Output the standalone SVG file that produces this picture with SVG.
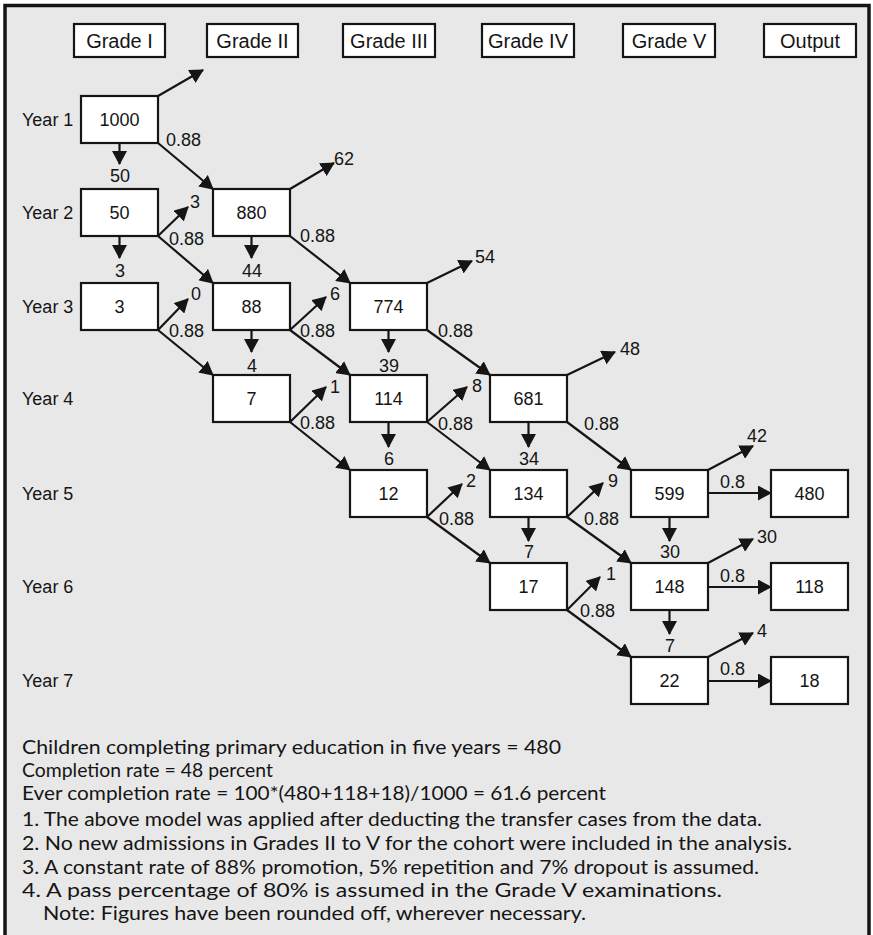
<svg xmlns="http://www.w3.org/2000/svg" width="873" height="935" viewBox="0 0 873 935">
<style>
.frame{fill:#e8e8e8;stroke:#151515;stroke-width:3.5}
.box{fill:#fff;stroke:#151515;stroke-width:2.2}
.t{font-family:"Liberation Sans",Arial,sans-serif;font-size:18px;fill:#151515}
.h{font-size:20px;text-anchor:middle}
.m{text-anchor:middle}
.c{stroke:#151515;stroke-width:2.2;fill:none;marker-end:url(#ah)}
.n{font-family:Lato,"Open Sans",sans-serif;font-size:18.5px;fill:#151515}
</style>
<defs>
<marker id="ah" markerUnits="userSpaceOnUse" markerWidth="15" markerHeight="15" refX="13" refY="7.5" orient="auto" viewBox="0 0 15 15">
<path d="M0,0 L14,7.5 L0,15 z" fill="#151515"/>
</marker>
</defs>
<rect class="frame" x="5" y="5.5" width="864" height="940"/>

<g id="headers">
<g id="h-grade1"><rect class="box" x="74" y="24" width="91" height="33"/><text class="t h" x="119.5" y="47.5">Grade I</text></g>
<g id="h-grade2"><rect class="box" x="207" y="24" width="91" height="33"/><text class="t h" x="252.5" y="47.5">Grade II</text></g>
<g id="h-grade3"><rect class="box" x="343" y="24" width="92" height="33"/><text class="t h" x="389" y="47.5">Grade III</text></g>
<g id="h-grade4"><rect class="box" x="482" y="24" width="92" height="33"/><text class="t h" x="528" y="47.5">Grade IV</text></g>
<g id="h-grade5"><rect class="box" x="623" y="24" width="92" height="33"/><text class="t h" x="669" y="47.5">Grade V</text></g>
<g id="h-output"><rect class="box" x="764" y="24" width="92" height="33"/><text class="t h" x="810" y="47.5">Output</text></g>
</g>

<g id="years">
<text class="t" x="22" y="126">Year 1</text>
<text class="t" x="22" y="219">Year 2</text>
<text class="t" x="22" y="313">Year 3</text>
<text class="t" x="22" y="405">Year 4</text>
<text class="t" x="22" y="500">Year 5</text>
<text class="t" x="22" y="593">Year 6</text>
<text class="t" x="22" y="687">Year 7</text>
</g>

<g id="connectors">
<line class="c" x1="158" y1="143" x2="213" y2="189"/>
<line class="c" x1="158" y1="236" x2="213" y2="283"/>
<line class="c" x1="290" y1="236" x2="350" y2="283"/>
<line class="c" x1="158" y1="330" x2="213" y2="375"/>
<line class="c" x1="290" y1="330" x2="350" y2="375"/>
<line class="c" x1="427" y1="330" x2="490" y2="375"/>
<line class="c" x1="290" y1="422" x2="350" y2="470"/>
<line class="c" x1="427" y1="422" x2="490" y2="470"/>
<line class="c" x1="567" y1="422" x2="631" y2="470"/>
<line class="c" x1="427" y1="517" x2="490" y2="563"/>
<line class="c" x1="567" y1="517" x2="631" y2="563"/>
<line class="c" x1="567" y1="610" x2="631" y2="657"/>
<line class="c" x1="708" y1="493" x2="771" y2="493"/>
<line class="c" x1="708" y1="587" x2="771" y2="587"/>
<line class="c" x1="708" y1="681" x2="771" y2="681"/>
<line class="c" x1="119.5" y1="143" x2="119.5" y2="164"/>
<line class="c" x1="119.5" y1="236" x2="119.5" y2="258"/>
<line class="c" x1="251.5" y1="236" x2="251.5" y2="258"/>
<line class="c" x1="251.5" y1="330" x2="251.5" y2="352"/>
<line class="c" x1="388.5" y1="330" x2="388.5" y2="352"/>
<line class="c" x1="388.5" y1="422" x2="388.5" y2="447"/>
<line class="c" x1="528.5" y1="422" x2="528.5" y2="447"/>
<line class="c" x1="528.5" y1="517" x2="528.5" y2="541"/>
<line class="c" x1="669.5" y1="517" x2="669.5" y2="541"/>
<line class="c" x1="669.5" y1="610" x2="669.5" y2="634"/>
<line class="c" x1="158" y1="96" x2="203" y2="70"/>
<line class="c" x1="290" y1="189" x2="334" y2="163"/>
<line class="c" x1="427" y1="283" x2="472" y2="261"/>
<line class="c" x1="567" y1="375" x2="615" y2="352"/>
<line class="c" x1="708" y1="470" x2="753" y2="446"/>
<line class="c" x1="708" y1="563" x2="753" y2="539"/>
<line class="c" x1="708" y1="657" x2="753" y2="633"/>
<line class="c" x1="158" y1="236" x2="188" y2="207"/>
<line class="c" x1="158" y1="330" x2="188" y2="299"/>
<line class="c" x1="290" y1="330" x2="326" y2="297"/>
<line class="c" x1="290" y1="422" x2="326" y2="387"/>
<line class="c" x1="427" y1="422" x2="467" y2="387"/>
<line class="c" x1="427" y1="517" x2="462" y2="484"/>
<line class="c" x1="567" y1="517" x2="603" y2="483"/>
<line class="c" x1="567" y1="610" x2="600" y2="577"/>
</g>

<g id="edge-labels">
<text class="t" x="166" y="146">0.88</text>
<text class="t" x="169" y="245">0.88</text>
<text class="t" x="300" y="242">0.88</text>
<text class="t" x="169" y="337">0.88</text>
<text class="t" x="300" y="337">0.88</text>
<text class="t" x="438" y="337">0.88</text>
<text class="t" x="300" y="429">0.88</text>
<text class="t" x="438" y="430">0.88</text>
<text class="t" x="584" y="430">0.88</text>
<text class="t" x="439" y="525">0.88</text>
<text class="t" x="584" y="525">0.88</text>
<text class="t" x="580" y="617">0.88</text>
<text class="t" x="720" y="488">0.8</text>
<text class="t" x="720" y="582">0.8</text>
<text class="t" x="720" y="675">0.8</text>
<text class="t m" x="120" y="182">50</text>
<text class="t m" x="120" y="277">3</text>
<text class="t m" x="252" y="277">44</text>
<text class="t m" x="252" y="372">4</text>
<text class="t m" x="389" y="372">39</text>
<text class="t m" x="389" y="465">6</text>
<text class="t m" x="529" y="465">34</text>
<text class="t m" x="529" y="558">7</text>
<text class="t m" x="670" y="558">30</text>
<text class="t m" x="670" y="652">7</text>
<text class="t" x="334" y="165">62</text>
<text class="t" x="475" y="263">54</text>
<text class="t" x="620" y="355">48</text>
<text class="t" x="747" y="442">42</text>
<text class="t" x="757" y="543">30</text>
<text class="t" x="757" y="637">4</text>
<text class="t" x="190" y="208">3</text>
<text class="t" x="191" y="300">0</text>
<text class="t" x="330" y="300">6</text>
<text class="t" x="330" y="393">1</text>
<text class="t" x="472" y="392">8</text>
<text class="t" x="466" y="487">2</text>
<text class="t" x="608" y="487">9</text>
<text class="t" x="606" y="580">1</text>
</g>

<g id="n-1-1"><rect class="box" x="81" y="96" width="77" height="47"/><text class="t m" x="119.5" y="126">1000</text></g>
<g id="n-2-1"><rect class="box" x="81" y="189" width="77" height="47"/><text class="t m" x="119.5" y="219">50</text></g>
<g id="n-2-2"><rect class="box" x="213" y="189" width="77" height="47"/><text class="t m" x="251.5" y="219">880</text></g>
<g id="n-3-1"><rect class="box" x="81" y="283" width="77" height="47"/><text class="t m" x="119.5" y="313">3</text></g>
<g id="n-3-2"><rect class="box" x="213" y="283" width="77" height="47"/><text class="t m" x="251.5" y="313">88</text></g>
<g id="n-3-3"><rect class="box" x="350" y="283" width="77" height="47"/><text class="t m" x="388.5" y="313">774</text></g>
<g id="n-4-2"><rect class="box" x="213" y="375" width="77" height="47"/><text class="t m" x="251.5" y="405">7</text></g>
<g id="n-4-3"><rect class="box" x="350" y="375" width="77" height="47"/><text class="t m" x="388.5" y="405">114</text></g>
<g id="n-4-4"><rect class="box" x="490" y="375" width="77" height="47"/><text class="t m" x="528.5" y="405">681</text></g>
<g id="n-5-3"><rect class="box" x="350" y="470" width="77" height="47"/><text class="t m" x="388.5" y="500">12</text></g>
<g id="n-5-4"><rect class="box" x="490" y="470" width="77" height="47"/><text class="t m" x="528.5" y="500">134</text></g>
<g id="n-5-5"><rect class="box" x="631" y="470" width="77" height="47"/><text class="t m" x="669.5" y="500">599</text></g>
<g id="n-5-6"><rect class="box" x="771" y="470" width="77" height="47"/><text class="t m" x="809.5" y="500">480</text></g>
<g id="n-6-4"><rect class="box" x="490" y="563" width="77" height="47"/><text class="t m" x="528.5" y="593">17</text></g>
<g id="n-6-5"><rect class="box" x="631" y="563" width="77" height="47"/><text class="t m" x="669.5" y="593">148</text></g>
<g id="n-6-6"><rect class="box" x="771" y="563" width="77" height="47"/><text class="t m" x="809.5" y="593">118</text></g>
<g id="n-7-5"><rect class="box" x="631" y="657" width="77" height="47"/><text class="t m" x="669.5" y="687">22</text></g>
<g id="n-7-6"><rect class="box" x="771" y="657" width="77" height="47"/><text class="t m" x="809.5" y="687">18</text></g>

<g id="notes">
<text class="n" x="22" y="754" textLength="539" lengthAdjust="spacingAndGlyphs">Children completing primary education in five years = 480</text>
<text class="n" x="22" y="777" textLength="251" lengthAdjust="spacingAndGlyphs">Completion rate = 48 percent</text>
<text class="n" x="22" y="800" textLength="584" lengthAdjust="spacingAndGlyphs">Ever completion rate = 100*(480+118+18)/1000 = 61.6 percent</text>
<text class="n" x="22" y="826" textLength="740" lengthAdjust="spacingAndGlyphs">1. The above model was applied after deducting the transfer cases from the data.</text>
<text class="n" x="22" y="850" textLength="770" lengthAdjust="spacingAndGlyphs">2. No new admissions in Grades II to V for the cohort were included in the analysis.</text>
<text class="n" x="22" y="874" textLength="737" lengthAdjust="spacingAndGlyphs">3. A constant rate of 88% promotion, 5% repetition and 7% dropout is assumed.</text>
<text class="n" x="22" y="897" textLength="700" lengthAdjust="spacingAndGlyphs">4. A pass percentage of 80% is assumed in the Grade V examinations.</text>
<text class="n" x="43" y="920" textLength="543" lengthAdjust="spacingAndGlyphs">Note: Figures have been rounded off, wherever necessary.</text>
</g>
</svg>
